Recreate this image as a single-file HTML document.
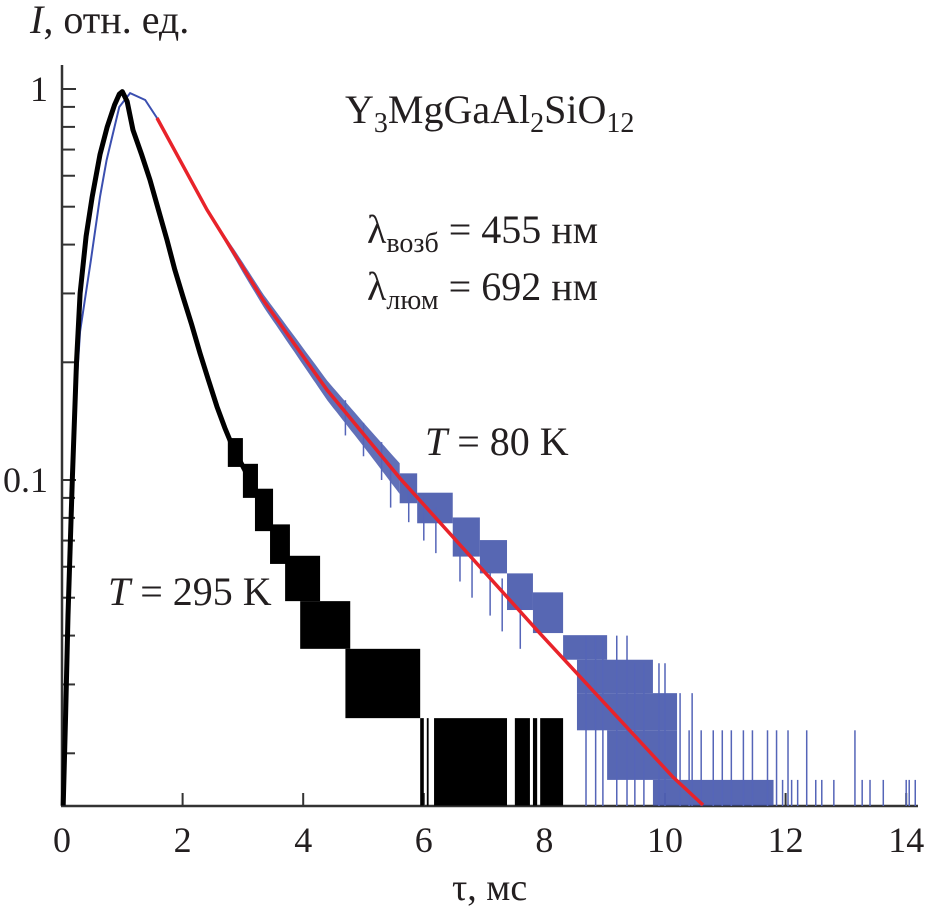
<!DOCTYPE html>
<html><head><meta charset="utf-8">
<style>
html,body{margin:0;padding:0;background:#fff;}
svg{display:block;}
svg text{font-family:"Liberation Serif","DejaVu Serif",serif;fill:#231f20;}
</style></head>
<body>
<svg id="chart" width="939" height="918" viewBox="0 0 939 918" xmlns="http://www.w3.org/2000/svg" font-family="Liberation Serif, DejaVu Serif, serif">
<g id="axes"></g>
<g id="series"></g>
<text x="30" y="33" font-size="40" font-family="Liberation Serif, serif"><tspan font-style="italic">I</tspan>, отн. ед.</text>
<text x="452" y="900" font-size="38" font-family="Liberation Serif, serif">τ, мс</text>
<text x="345" y="123" font-size="40" font-family="Liberation Serif, serif">Y<tspan font-size="28" dy="9">3</tspan><tspan dy="-9">MgGaAl</tspan><tspan font-size="28" dy="9">2</tspan><tspan dy="-9">SiO</tspan><tspan font-size="28" dy="9">12</tspan></text>
<text x="367" y="243" font-size="40" font-family="Liberation Serif, serif">λ<tspan font-size="28" dy="9">возб</tspan><tspan dy="-9"> = 455 нм</tspan></text>
<text x="367" y="300" font-size="40" font-family="Liberation Serif, serif">λ<tspan font-size="28" dy="9">люм</tspan><tspan dy="-9"> = 692 нм</tspan></text>
<text x="425" y="455" font-size="40" font-family="Liberation Serif, serif"><tspan font-style="italic">T</tspan> = 80 K</text>
<text x="108" y="605" font-size="40" font-family="Liberation Serif, serif"><tspan font-style="italic">T</tspan> = 295 K</text>
</svg>
<script>
// ---- data ----
const xTicks = [0, 2, 4, 6, 8, 10, 12, 14];
const yMajorTicks = [1, 0.1];
const yMajorLabels = ["1", "0.1"];
const yMinorTicks = [0.9, 0.8, 0.7, 0.6, 0.5, 0.4, 0.3, 0.2, 0.09, 0.08, 0.07, 0.06, 0.05, 0.04, 0.03, 0.02];
// black curve (T = 295 K), smooth part
const blackT = [0.02, 0.06, 0.1, 0.17, 0.24, 0.3, 0.4, 0.5, 0.63, 0.75, 0.87, 0.95, 1.0, 1.08, 1.177, 1.32, 1.459, 1.6, 1.741, 1.87, 2.007, 2.15, 2.289, 2.43, 2.57, 2.7, 2.836, 3.118];
const blackV = [0.0147, 0.025, 0.045, 0.1, 0.2, 0.3, 0.42, 0.53, 0.68, 0.8, 0.91, 0.97, 0.985, 0.93, 0.785, 0.68, 0.585, 0.49, 0.411, 0.345, 0.294, 0.25, 0.211, 0.18, 0.154, 0.136, 0.121, 0.1];
// black quantized noise bands [t0, t1, low, high]
const blackBands = [
  [2.75, 3.0, 0.108, 0.128],
  [3.0, 3.25, 0.09, 0.11],
  [3.2, 3.5, 0.074, 0.095],
  [3.45, 3.78, 0.061, 0.077],
  [3.7, 4.28, 0.049, 0.064],
  [3.95, 4.78, 0.037, 0.049],
  [4.7, 5.94, 0.0246, 0.037],
  [5.94, 6.0, 0.0147, 0.0246],
  [6.05, 6.08, 0.0147, 0.0246],
  [6.17, 7.38, 0.0147, 0.0246],
  [7.51, 7.76, 0.0147, 0.0246],
  [7.81, 7.88, 0.0147, 0.0246],
  [7.93, 8.31, 0.0147, 0.0246]
];
// blue curve (T = 80 K)
const blueT = [0.04, 0.08, 0.12, 0.2, 0.3, 0.48, 0.63, 0.74, 0.95, 1.13, 1.38, 1.575, 2.405, 3.333, 4.395, 5.605, 7.877, 10.13, 10.63];
const blueV = [0.0147, 0.03, 0.06, 0.14, 0.24, 0.365, 0.53, 0.658, 0.9, 0.976, 0.937, 0.843, 0.491, 0.289, 0.17, 0.101, 0.0413, 0.0174, 0.0147];
// blue relative noise amplitude along the curve (early part)
const blueNoiseT = [2.5, 3.0, 3.5, 4.0, 4.5, 5.0, 5.6];
const blueNoiseRel = [0.01, 0.03, 0.04, 0.05, 0.06, 0.07, 0.09];
// blue quantized noise bands in the tail [t0, t1, low, high]
const blueBands = [
  [5.6, 5.89, 0.0872, 0.104],
  [5.89, 6.48, 0.0775, 0.0928],
  [6.48, 6.93, 0.0637, 0.0802],
  [6.93, 7.38, 0.0577, 0.0702],
  [7.38, 7.81, 0.0465, 0.0577],
  [7.81, 8.31, 0.0406, 0.0516],
  [8.31, 9.04, 0.0347, 0.0401],
  [8.54, 9.8, 0.0285, 0.0347],
  [8.54, 10.2, 0.0229, 0.0285],
  [9.04, 10.2, 0.0171, 0.0229],
  [9.8, 11.8, 0.0147, 0.0171]
];
// short blue noise strokes [t, low, high]
const blueStrokes = [
  [4.7, 0.13, 0.16], [5.0, 0.115, 0.14], [5.3, 0.1, 0.125], [5.45, 0.085, 0.11],
  [5.75, 0.078, 0.1], [6.0, 0.07, 0.09], [6.2, 0.065, 0.085], [6.6, 0.055, 0.07],
  [6.8, 0.05, 0.066], [7.1, 0.045, 0.058], [7.3, 0.041, 0.056], [7.6, 0.037, 0.048]
];
// blue spikes from the floor [t, high value]
const blueSpikes = [
  [8.69, 0.04], [8.85, 0.04], [8.97, 0.04], [9.2, 0.04], [9.37, 0.04],
  [9.5, 0.034], [9.65, 0.034], [9.9, 0.034], [10.0, 0.034], [10.25, 0.0285], [10.45, 0.0285],
  [10.4, 0.0229], [10.6, 0.0229], [10.8, 0.0229], [10.95, 0.0229], [11.1, 0.0229], [11.3, 0.0229], [11.45, 0.0229], [11.7, 0.0229], [11.85, 0.0229], [12.04, 0.0229], [12.35, 0.0229], [13.15, 0.0229],
  [11.95, 0.0171], [12.1, 0.0171], [12.2, 0.0171], [12.5, 0.0171], [12.6, 0.0171], [12.8, 0.0171], [13.27, 0.0171], [13.4, 0.0171], [13.62, 0.0171], [14.0, 0.0171], [14.05, 0.0171], [14.15, 0.0171]
];
// red fit line
const fitT = [1.575, 2.405, 3.333, 4.395, 5.605, 7.877, 10.13, 10.63];
const fitV = [0.843, 0.491, 0.289, 0.17, 0.101, 0.0413, 0.0174, 0.01475];

// ---- scales ----
const X0 = 62, XS = 60.3, Y1 = 89, DEC = 391, YBOT = 806;
const xs = t => X0 + t * XS;
const ys = v => Math.min(YBOT, Y1 - Math.log10(v) * DEC);
const NS = "http://www.w3.org/2000/svg";
function mk(tag, attrs, parent) {
  const e = document.createElementNS(NS, tag);
  for (const k in attrs) e.setAttribute(k, attrs[k]);
  parent.appendChild(e);
  return e;
}
function interpLog(T, V, t) {
  if (t <= T[0]) return V[0];
  for (let i = 1; i < T.length; i++) {
    if (t <= T[i]) {
      const f = (t - T[i - 1]) / (T[i] - T[i - 1]);
      return Math.pow(10, Math.log10(V[i - 1]) + f * (Math.log10(V[i]) - Math.log10(V[i - 1])));
    }
  }
  return V[V.length - 1];
}
function interpLin(T, V, t) {
  if (t <= T[0]) return V[0];
  for (let i = 1; i < T.length; i++) {
    if (t <= T[i]) { const f = (t - T[i - 1]) / (T[i] - T[i - 1]); return V[i - 1] + f * (V[i] - V[i - 1]); }
  }
  return V[V.length - 1];
}
const axes = document.getElementById('axes');
const series = document.getElementById('series');

let el = mk('line', {x1: X0, y1: 65, x2: X0, y2: YBOT, stroke: '#333', 'stroke-width': 2.5}, axes);


el = mk('line', {x1: X0 - 1, y1: YBOT, x2: 918, y2: YBOT, stroke: '#333', 'stroke-width': 2.5}, axes);



xTicks.forEach(t => {
  const x = xs(t);
  if (t > 0) {
    const tk = mk('line', {x1: x, y1: YBOT, x2: x, y2: YBOT - 13, stroke: '#333', 'stroke-width': 2}, axes);
    
    
  }
  const lb = mk('text', {x: x, y: 852, 'font-size': 36, 'text-anchor': 'middle', 'font-family': 'Liberation Serif, serif'}, axes);
  lb.textContent = String(t);
  
  
});
yMajorTicks.forEach((v, i) => {
  const y = ys(v);
  const tk = mk('line', {x1: X0, y1: y, x2: X0 + 14, y2: y, stroke: '#333', 'stroke-width': 2}, axes);
  
  
  const lb = mk('text', {x: 48, y: y + 12, 'font-size': 36, 'text-anchor': 'end', 'font-family': 'Liberation Serif, serif'}, axes);
  lb.textContent = yMajorLabels[i];
  
  
});
yMinorTicks.forEach(v => {
  const y = ys(v);
  const tk = mk('line', {x1: X0, y1: y, x2: X0 + 13, y2: y, stroke: '#333', 'stroke-width': 2}, axes);
  
  
});

function pts(T, V) { return T.map((t, i) => xs(t).toFixed(1) + ',' + ys(V[i]).toFixed(1)).join(' '); }

{
  const up = [], dn = [];
  const t0 = blueNoiseT[0], t1 = blueNoiseT[blueNoiseT.length - 1];
  for (let t = t0; t <= t1 + 1e-9; t += 0.05) {
    const m = interpLog(blueT, blueV, t), a = interpLin(blueNoiseT, blueNoiseRel, t);
    up.push(xs(t).toFixed(1) + ',' + ys(m * (1 + a)).toFixed(1));
    dn.unshift(xs(t).toFixed(1) + ',' + ys(m * (1 - a)).toFixed(1));
  }
  const p = mk('polygon', {points: up.concat(dn).join(' '), fill: '#3a4ca6', 'fill-opacity': 0.8}, series);
  
  
}
blueBands.forEach(b => {
  const r = mk('rect', {x: xs(b[0]), y: ys(b[3]), width: xs(b[1]) - xs(b[0]), height: ys(b[2]) - ys(b[3]), fill: '#3a4ca6', 'fill-opacity': 0.85}, series);
  
  
});
blueStrokes.forEach(s => {
  const l = mk('line', {x1: xs(s[0]), y1: ys(s[1]), x2: xs(s[0]), y2: ys(s[2]), stroke: '#5565b8', 'stroke-width': 1.5}, series);
  
  
});
blueSpikes.forEach(s => {
  const l = mk('line', {x1: xs(s[0]), y1: YBOT, x2: xs(s[0]), y2: ys(s[1]), stroke: '#5565b8', 'stroke-width': 1.5}, series);
  
  
});
el = mk('polyline', {points: pts(blueT, blueV), fill: 'none', stroke: '#3b4fb0', 'stroke-width': 2}, series);



blackBands.forEach(b => {
  const r = mk('rect', {x: xs(b[0]), y: ys(b[3]), width: xs(b[1]) - xs(b[0]), height: ys(b[2]) - ys(b[3]), fill: '#000'}, series);
  
  
});
el = mk('polyline', {points: pts(blackT, blackV), fill: 'none', stroke: '#000', 'stroke-width': 5, 'stroke-linejoin': 'round'}, series);



el = mk('polyline', {points: pts(fitT, fitV), fill: 'none', stroke: '#e8232a', 'stroke-width': 3.5}, series);


</script>
</body></html>
